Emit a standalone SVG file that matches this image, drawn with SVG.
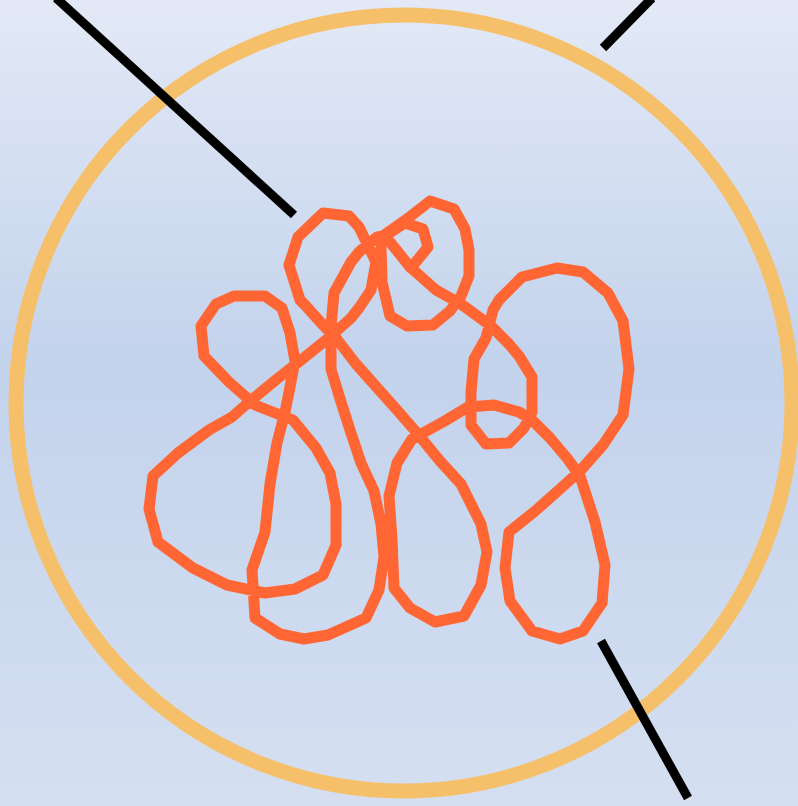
<svg xmlns="http://www.w3.org/2000/svg" width="798" height="806" viewBox="0 0 798 806">
<defs>
<linearGradient id="bg" x1="0" y1="0" x2="0" y2="1">
<stop offset="0" stop-color="#E3E9F6"/>
<stop offset="0.45" stop-color="#C3D3EC"/>
<stop offset="1" stop-color="#D5DFF1"/>
</linearGradient>
<style>
.ring{fill:none;stroke:#F6C06A;stroke-width:15}
.bar{stroke:#000;stroke-width:9;fill:none;stroke-linecap:butt}
.knot{fill:none;stroke:#FF6634;stroke-width:11;stroke-linejoin:round;stroke-linecap:round}
</style>
</defs>
<rect width="798" height="806" fill="url(#bg)"/>
<circle class="ring" cx="404" cy="403" r="388"/>
<g id="lines">
<line class="bar" x1="56" y1="-2" x2="294" y2="215"/>
<line class="bar" x1="652" y1="-2" x2="603" y2="48"/>
<line class="bar" x1="601" y1="641" x2="688" y2="798"/>
</g>
<g id="knot">
<path class="knot" d="M323,213 L349,216 L359,227 L376,262 L371,290 L359,308 L351,318 L331,336 L300,361 L277,379 L249,402 L232,417 L209,430 L178,453 L153,476 L149,509 L158,542 L193,568 L227,585 L265,593 L295,589 L323,575 L336,545 L336,504 L330,473 L316,448 L293,420 L255,405 L229,382 L204,356 L201,326 L216,304 L234,296 L265,296 L282,308 L290,333 L295,361 L290,387 L285,412 L277,443 L270,484 L265,532 L252,570 L255,618 L280,634 L304,639 L328,635 L366,618 L379,590 L384,557 L381,524 L374,491 L361,463 L351,433 L341,402 L331,369 L331,326 L334,293 L351,262 L359,252 L377,237 L385,236 L398,252 L410,267 L436,290 L461,304 L491,326 L509,344 L519,356 L532,377 L532,412 L524,428 L509,443 L486,444 L471,425 L471,392 L474,359 L486,338 L493,310 L499,300 L522,277 L557,268 L583,272 L608,293 L623,321 L629,369 L623,415 L603,445 L580,471 L560,489 L534,512 L509,532 L505,568 L510,601 L532,631 L560,639 L583,631 L602,603 L605,565 L595,522 L580,476 L567,458 L550,438 L532,420 L519,412 L494,405 L468,407 L443,422 L412,439 L397,463 L389,496 L392,539 L394,588 L410,608 L435,622 L464,616 L481,585 L487,552 L481,524 L461,484 L440,461 L417,433 L397,410 L372,382 L356,364 L336,338 L323,325 L305,305 L300,300 L289,265 L298,237 Z"/>
<path class="knot" d="M385,236 L405,223 L423,229 L428,247 L411,268"/>
<path class="knot" d="M380,238 L407,219 L430,201 L454,209 L465,229 L469,250 L469,276 L461,296 L450,311 L433,325 L407,326 L390,316 L382,282 L381,246 Z"/>
</g>
</svg>
